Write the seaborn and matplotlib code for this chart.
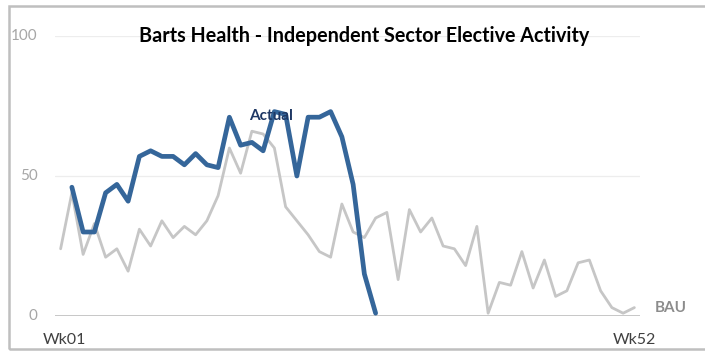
import numpy as np
import pandas as pd
import matplotlib
matplotlib.use("Agg")
import matplotlib.pyplot as plt
import seaborn as sns
from matplotlib.patches import Rectangle

weeks = list(range(1, 53))
bau = [24, 44, 22, 33, 21, 24, 16, 31, 25, 34, 28, 32, 29, 34, 43, 60, 51, 66, 65, 60,
       39, 34, 29, 23, 21, 40, 30, 28, 35, 37, 13, 38, 30, 35, 25, 24, 18, 32, 1, 12,
       11, 23, 10, 20, 7, 9, 19, 20, 9, 3, 1, 3]
actual_weeks = list(range(2, 30))
actual = [46, 30, 30, 44, 47, 41, 57, 59, 57, 57, 54, 58, 54, 53, 71, 61, 62, 59, 73, 72,
          50, 71, 71, 73, 64, 47, 15, 1]
title = "Barts Health - Independent Sector Elective Activity"
ytick_vals = [0, 50, 100]
xlabels = ["Wk01", "Wk52"]

sns.set_theme(style="white")
plt.rcParams['font.family'] = ['Lato', 'DejaVu Sans']

df_bau = pd.DataFrame({"week": weeks, "value": bau})
df_act = pd.DataFrame({"week": actual_weeks, "value": actual})

fig = plt.figure(figsize=(7.05, 3.51), dpi=100)
ax = fig.add_axes([55 / 705, 1 - 316 / 351, (640 - 55) / 705, (316 - 36) / 351])

sns.lineplot(data=df_bau, x="week", y="value", ax=ax, color="#C6C6C6", linewidth=2.0)
sns.lineplot(data=df_act, x="week", y="value", ax=ax, color="#35669A", linewidth=3.4)

ax.set_xlim(0.5, 52.5)
ax.set_ylim(0, 100)
for v in [50, 100]:
    ax.axhline(v, color="#EDEDED", linewidth=0.9, zorder=0)
ax.axhline(0, color="#BDBDBD", linewidth=1.2, zorder=1)
for s in ax.spines.values():
    s.set_visible(False)
ax.set_xticks([])
ax.set_yticks([])
ax.set_xlabel("")
ax.set_ylabel("")

for v in ytick_vals:
    ax.text(-0.03, v, str(v), transform=ax.get_yaxis_transform(), ha="right", va="center",
            fontsize=11, color="#A6A6A6")

ax.text(1.3, -8.5, xlabels[0], ha="center", va="center", fontsize=11.5, color="#404040")
ax.text(52, -8.5, xlabels[1], ha="center", va="center", fontsize=11.5, color="#404040")
ax.text(53.8, 3, "BAU", ha="left", va="center", fontsize=11, color="#8C8C8C", fontweight="bold", clip_on=False)
ax.text(19.7, 71.5, "Actual", ha="center", va="center", fontsize=11, color="#1F3864", fontweight="bold")

fig.text(0.516, 1 - 36 / 351, title, ha="center", va="center", fontsize=14.2, fontweight="bold", color="black")

fig.patches.append(Rectangle((9 / 705, 1 - 349 / 351), 1.2, (349 - 6) / 351, transform=fig.transFigure,
                             fill=False, edgecolor="#BFBFBF", linewidth=1.8))

fig.savefig("out.png", dpi=100, facecolor="white")
